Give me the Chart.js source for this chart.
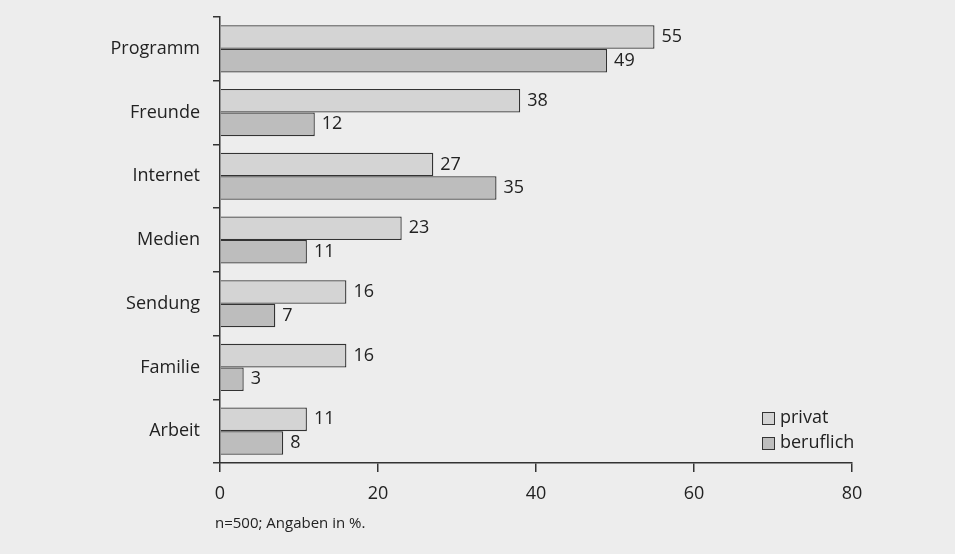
<!DOCTYPE html>
<html>
<head>
<meta charset="utf-8">
<script src="https://cdn.jsdelivr.net/npm/chart.js@4/dist/chart.umd.min.js"></script>
<style>
  html, body { margin: 0; padding: 0; background: #ededed; }
  #wrap { width: 955px; height: 554px; }
</style>
</head>
<body>
<div id="wrap"><canvas id="chart" width="955" height="554"></canvas></div>
<script>
// Daten
const kategorien = ["Programm", "Freunde", "Internet", "Medien", "Sendung", "Familie", "Arbeit"];
const privat = [55, 38, 27, 23, 16, 16, 11];
const beruflich = [49, 12, 35, 11, 7, 3, 8];
const xTicks = [0, 20, 40, 60, 80];
const fussnote = "n=500; Angaben in %.";

const schrift = "'Open Sans', 'DejaVu Sans', sans-serif";
const textFarbe = "#222";
const linienFarbe = "#333";

// Werte rechts neben die Balken schreiben
const werteLabels = {
  id: "werteLabels",
  afterDatasetsDraw(chart) {
    const ctx = chart.ctx;
    ctx.save();
    ctx.font = "18px " + schrift;
    ctx.fillStyle = textFarbe;
    ctx.textAlign = "left";
    ctx.textBaseline = "middle";
    chart.data.datasets.forEach((ds, i) => {
      chart.getDatasetMeta(i).data.forEach((bar, j) => {
        ctx.fillText(String(ds.data[j]), bar.x + 7, bar.y);
      });
    });
    ctx.restore();
  }
};

// Legende unten rechts im Diagramm + Fussnote
const legendeUndNote = {
  id: "legendeUndNote",
  afterDraw(chart) {
    const ctx = chart.ctx;
    const area = chart.chartArea;
    ctx.save();
    ctx.font = "18px " + schrift;
    ctx.textBaseline = "middle";
    chart.data.datasets.forEach((ds, i) => {
      const x = 762, y = 412 + i * 25;
      ctx.fillStyle = ds.backgroundColor;
      ctx.fillRect(x, y, 12, 12);
      ctx.strokeStyle = linienFarbe;
      ctx.lineWidth = 1;
      ctx.strokeRect(x + 0.5, y + 0.5, 12, 12);
      ctx.fillStyle = textFarbe;
      ctx.fillText(ds.label, x + 18, y + 6);
    });
    ctx.font = "15px " + schrift;
    ctx.fillText(fussnote, area.left - 5, 524);
    ctx.restore();
  }
};

new Chart(document.getElementById("chart"), {
  type: "bar",
  data: {
    labels: kategorien,
    datasets: [
      { label: "privat", data: privat, backgroundColor: "#d4d4d4", borderColor: linienFarbe, borderWidth: 1.3,
        categoryPercentage: 0.74, barPercentage: 1 },
      { label: "beruflich", data: beruflich, backgroundColor: "#bdbdbd", borderColor: linienFarbe, borderWidth: 1.3,
        categoryPercentage: 0.74, barPercentage: 1 }
    ]
  },
  options: {
    indexAxis: "y",
    responsive: false,
    animation: false,
    layout: { padding: { top: 17, right: 103, left: 0, bottom: 0 } },
    plugins: { legend: { display: false }, tooltip: { enabled: false } },
    scales: {
      x: {
        min: 0, max: 80,
        afterBuildTicks: axis => { axis.ticks = xTicks.map(v => ({ value: v })); },
        afterFit: axis => { axis.height = 91; },
        border: { color: linienFarbe, width: 1.5 },
        grid: { drawOnChartArea: false, color: linienFarbe, lineWidth: 1.5, tickLength: 9 },
        ticks: { color: textFarbe, font: { family: schrift, size: 18 }, padding: 11 }
      },
      y: {
        afterFit: axis => { axis.width = 220; axis.paddingTop = 0; axis.paddingBottom = 0; },
        border: { color: linienFarbe, width: 1.5 },
        grid: { drawOnChartArea: false, offset: true, color: linienFarbe, lineWidth: 1.5, tickLength: 7 },
        ticks: { color: textFarbe, font: { family: schrift, size: 18 }, padding: 13 }
      }
    }
  },
  plugins: [werteLabels, legendeUndNote]
});
</script>
</body>
</html>
